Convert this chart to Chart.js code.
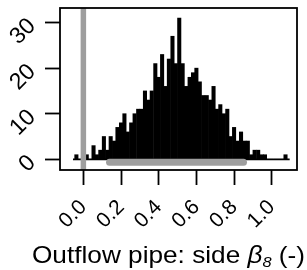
<!DOCTYPE html>
<html>
<head>
<meta charset="utf-8">
<script src="https://cdn.jsdelivr.net/npm/chart.js@4"></script>
<style>
  body { margin: 0; background: #fff; }
</style>
</head>
<body>
<canvas id="histChart" width="307" height="270"></canvas>
<script>
// bin centres and counts
const binCenters = [
  -0.037, -0.019, -0.001, 0.018, 0.036, 0.054, 0.072, 0.090, 0.109, 0.127,
  0.145, 0.163, 0.181, 0.200, 0.218, 0.236, 0.254, 0.272, 0.291, 0.309,
  0.327, 0.345, 0.363, 0.382, 0.400, 0.418, 0.436, 0.454, 0.473, 0.491,
  0.509, 0.527, 0.545, 0.564, 0.582, 0.600, 0.618, 0.636, 0.655, 0.673,
  0.691, 0.709, 0.727, 0.746, 0.764, 0.782, 0.800, 0.818, 0.837, 0.855,
  0.873, 0.891, 0.909, 0.928, 0.946, 0.964, 0.982, 1.000, 1.019, 1.037,
  1.055, 1.073
];
const counts = [
  1, 0, 0, 1, 0, 3, 1, 2, 5, 2,
  5, 4, 7, 8, 10, 6, 8, 10, 11, 11,
  15, 13, 15, 21, 18, 23, 16, 22, 27, 21,
  31, 21, 16, 18, 19, 20, 17, 14, 14, 13,
  16, 11, 12, 10, 11, 5, 7, 4, 6, 4,
  4, 1, 2, 2, 1, 1, 0, 0, 0, 0,
  0, 1
];
const baseRange = [-0.055, 1.095];
const interval = [0.139, 0.85];
const intervalLevel = -0.65;
const refValue = 0;

const xTicks = [0, 0.2, 0.4, 0.6, 0.8, 1.0];
const yTicks = [0, 10, 20, 30];

const FONT = "'Liberation Sans', Arial, sans-serif";
const GREY = "#9e9e9e";

// frame round the plot area, like R's box()
const boxPlugin = {
      id: "box",
      afterDatasetsDraw(chart) {
            const { ctx, chartArea: a } = chart;
            ctx.save();
            ctx.strokeStyle = "#000";
            ctx.lineWidth = 1.8;
            ctx.strokeRect(a.left, a.top, a.right - a.left, a.bottom - a.top);
            ctx.restore();
      },
};

// x label with italic beta and subscript 8
const titleParts = [
      { text: "Outflow pipe: side ", style: "", size: 24, dy: 0 },
      { text: "β", style: "italic ", size: 24, dy: 0 },
      { text: "8", style: "italic ", size: 15, dy: 4 },
      { text: " (-)", style: "", size: 24, dy: 0 },
];
const titlePlugin = {
      id: "xTitle",
      afterDraw(chart) {
            const { ctx } = chart;
            const left = 32;
            const right = 305;
            const baseY = 263;
            ctx.save();
            ctx.fillStyle = "#000";
            ctx.textBaseline = "alphabetic";
            let total = 0;
            titleParts.forEach((p) => {
                  ctx.font = p.style + p.size + "px " + FONT;
                  p.w = ctx.measureText(p.text).width;
                  total += p.w;
            });
            const sx = (right - left) / total;
            ctx.translate(left, baseY);
            ctx.scale(sx, 1);
            let x = 0;
            titleParts.forEach((p) => {
                  ctx.font = p.style + p.size + "px " + FONT;
                  ctx.fillText(p.text, x, p.dy);
                  x += p.w;
            });
            ctx.restore();
      },
};

const ctx = document.getElementById("histChart");

new Chart(ctx, {
      type: "bar",
      data: {
            datasets: [
                  {
                        type: "line",
                        data: interval.map((v) => ({ x: v, y: intervalLevel })),
                        borderColor: GREY,
                        borderWidth: 7,
                        borderCapStyle: "round",
                        pointRadius: 0,
                  },
                  {
                        type: "line",
                        data: [
                              { x: refValue, y: -10 },
                              { x: refValue, y: 50 },
                        ],
                        borderColor: GREY,
                        borderWidth: 5.5,
                        pointRadius: 0,
                        clip: 0,
                  },
                  {
                        type: "line",
                        data: baseRange.map((v) => ({ x: v, y: 0 })),
                        borderColor: "#000",
                        borderWidth: 1.8,
                        pointRadius: 0,
                  },
                  {
                        type: "bar",
                        data: binCenters.map((v, i) => ({ x: v, y: counts[i] })),
                        backgroundColor: "#000",
                        borderWidth: 0,
                        barPercentage: 1,
                        categoryPercentage: 1,
                  },
            ],
      },
      options: {
            responsive: false,
            animation: false,
            devicePixelRatio: 1,
            layout: { padding: { left: 0, right: 10, top: 8, bottom: 0 } },
            plugins: { legend: { display: false }, tooltip: { enabled: false } },
            scales: {
                  x: {
                        type: "linear",
                        offset: false,
                        min: -0.124,
                        max: 1.134,
                        afterBuildTicks: (s) => {
                              s.ticks = xTicks.map((v) => ({ value: v }));
                        },
                        afterFit: (s) => {
                              s.height = 100;
                              s.paddingLeft = 0;
                              s.paddingRight = 0;
                        },
                        border: { display: false },
                        grid: {
                              offset: false,
                              drawOnChartArea: false,
                              drawTicks: true,
                              tickLength: 15,
                              tickWidth: 1.8,
                              tickColor: "#000",
                        },
                        ticks: {
                              autoSkip: false,
                              minRotation: 45,
                              maxRotation: 45,
                              padding: 10,
                              color: "#000",
                              font: { family: FONT, size: 21 },
                              callback: (v) => Number(v).toFixed(1),
                        },
                  },
                  y: {
                        type: "linear",
                        min: -2.35,
                        max: 33.2,
                        afterBuildTicks: (s) => {
                              s.ticks = yTicks.map((v) => ({ value: v }));
                        },
                        afterFit: (s) => {
                              s.width = 60;
                              s.paddingTop = 0;
                              s.paddingBottom = 0;
                        },
                        border: { display: false },
                        grid: {
                              drawOnChartArea: false,
                              drawTicks: true,
                              tickLength: 15,
                              tickWidth: 1.8,
                              tickColor: "#000",
                        },
                        ticks: {
                              minRotation: 45,
                              maxRotation: 45,
                              padding: 13,
                              color: "#000",
                              font: { family: FONT, size: 23 },
                        },
                  },
            },
      },
      plugins: [boxPlugin, titlePlugin],
});
</script>
</body>
</html>
